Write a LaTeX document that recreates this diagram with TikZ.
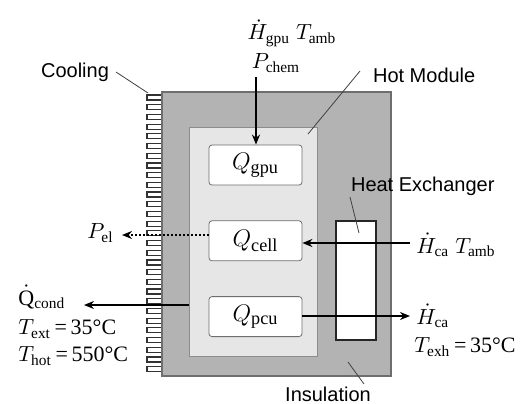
\documentclass[tikz,border=0pt]{standalone}
\usepackage{fontspec}
\setmainfont{Liberation Serif}
\setsansfont{Liberation Sans}
\usepackage{tikz}
\usetikzlibrary{arrows.meta, positioning}
\definecolor{insulgray}{HTML}{B3B3B3}
\definecolor{hotgray}{HTML}{E6E6E6}
\definecolor{edgegray}{HTML}{6E6E6E}

\begin{document}
\begin{tikzpicture}[x=0.5pt,y=-0.5pt,
  lbl/.style={font=\sffamily\normalsize},
  qlbl/.style={font=\fontsize{11}{12}\selectfont, inner sep=0pt, align=left},
  qbox/.style={draw=edgegray, fill=white, rounded corners=1.5pt, minimum width=46.5pt, minimum height=20pt, font=\fontsize{13}{14}\selectfont},
  leader/.style={draw=black!75, line width=0.4pt},
  flow/.style={-{Stealth[length=5pt,width=4pt]}, line width=1pt},
  fin/.style={line width=0.6pt, black!80}]
\useasboundingbox (0,0) rectangle (526,403);

% boxes
\node[draw=edgegray, line width=0.8pt, fill=insulgray, minimum width=114.5pt, minimum height=142pt, inner sep=0pt] (insul) at (276.5,234) {};
\node[draw=black!45, fill=hotgray, minimum width=64pt, minimum height=114.5pt, inner sep=0pt] (hot) at (253,241.5) {};
\node[qbox] (gpu) at (255.5,165) {$Q_{\mathrm{gpu}}$};
\node[qbox, below=17.5pt of gpu] (cell) {$Q_{\mathrm{cell}}$};
\node[qbox, below=17.5pt of cell] (pcu) {$Q_{\mathrm{pcu}}$};
\node[draw=black!85, line width=0.9pt, fill=white, minimum width=20pt, minimum height=59.5pt, inner sep=0pt] (hx) at (356,280.5) {};

% cooling fins
\foreach \y in {0,...,28}
  \draw[fin] (161,95+\y*9.7) -- ++(-14,0) -- ++(0,5) -- ++(14,0);

% labels with leaders
\node[lbl, anchor=east] (cooling) at (116,72) {Cooling};
\draw[leader] (cooling.east) -- (148,93);
\node[lbl, anchor=west] (hotlbl) at (366,75) {Hot Module};
\draw[leader] (hotlbl.west) ++(-6,-4) -- (308,134);
\node[lbl, anchor=west] (hxlbl) at (344,186) {Heat Exchanger};
\draw[leader] (350,197) -- (359,233);
\node[lbl] (insullbl) at (328,394) {Insulation};
\draw[leader] (348,362) -- (364,384);

% gpu input
\node[qlbl] (hgpu) at (292,33) {$\dot{H}_{\mathrm{gpu}}\;T_{\mathrm{amb}}$};
\node[qlbl] (pchem) at (276,63) {$P_{\mathrm{chem}}$};
\coordinate (gpuin) at (256,77);
\draw[flow] (gpuin) -- (gpuin |- gpu.north);

% electric power out
\coordinate (pelend) at (122,235);
\node[qlbl, anchor=east] (pel) at (114,233) {$P_{\mathrm{el}}$};
\draw[flow, densely dotted, line width=0.9pt] (cell.west |- pelend) -- (pelend);

% cathode air in
\coordinate (cain) at (410,243);
\node[qlbl, anchor=west] (hcain) at (416,245) {$\dot{H}_{\mathrm{ca}}\;T_{\mathrm{amb}}$};
\draw[flow] (cain) -- (cell.east |- cain);

% cathode air out
\coordinate (caout) at (410,316);
\node[qlbl, anchor=west] (hcaout) at (416,316) {$\dot{H}_{\mathrm{ca}}$};
\node[qlbl, anchor=west] (texh) at (414,347) {$T_{\mathrm{exh}}$\,=\,35°C};
\draw[flow] (pcu.east |- caout) -- (caout);

% condenser heat out
\coordinate (condout) at (84,305);
\node[qlbl, anchor=west] (qcond) at (18,297) {$\dot{\mathrm{Q}}_{\mathrm{cond}}$};
\node[qlbl, anchor=west] (text) at (18,329) {$T_{\mathrm{ext}}$\,=\,35°C};
\node[qlbl, anchor=west] (thot) at (18,356) {$T_{\mathrm{hot}}$\,=\,550°C};
\draw[flow] (hot.west |- condout) -- (condout);
\end{tikzpicture}
\end{document}
